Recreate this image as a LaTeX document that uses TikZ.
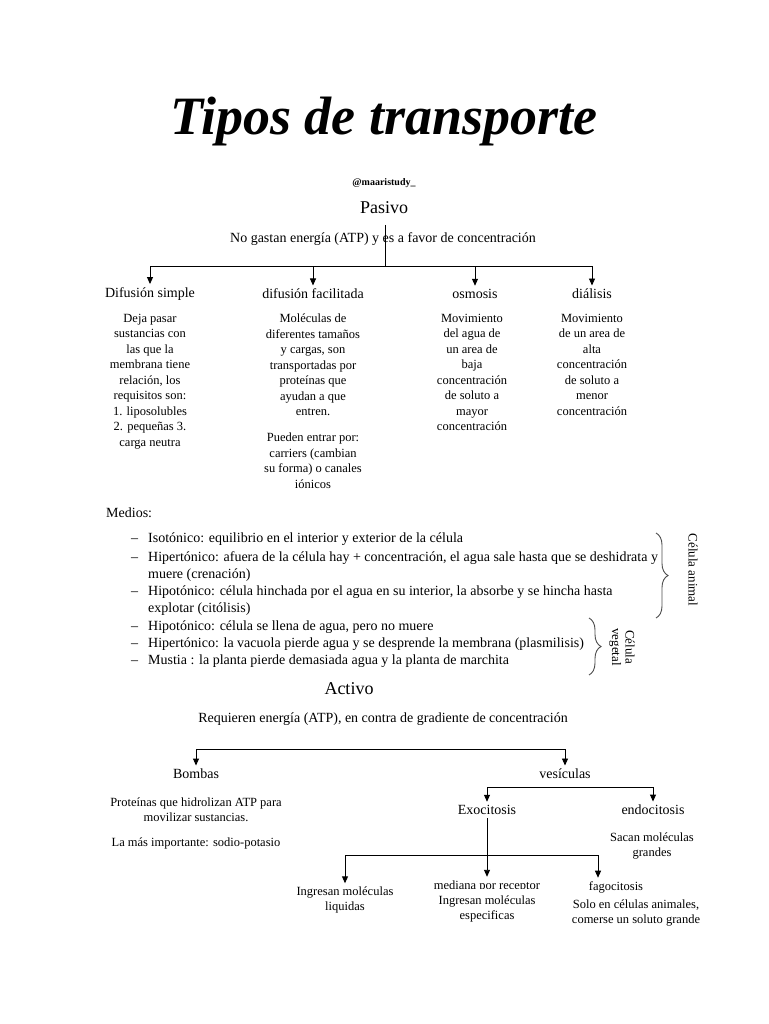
\documentclass[tikz,border=0pt]{standalone}
\usepackage{fontspec}
\setmainfont{Liberation Serif}
\usetikzlibrary{arrows.meta,decorations.pathreplacing}

\begin{document}
\begin{tikzpicture} %Tipos de transporte
      [x=1pt, y=-1pt,
      head/.style={font=\fontsize{18}{20}\selectfont},
      body/.style={font=\fontsize{14}{16}\selectfont},
      col/.style={align=center, anchor=north, inner sep=0pt, font=\fontsize{12.5}{15.5}\selectfont},
      item/.style={anchor=base west, inner sep=0pt, font=\fontsize{14}{16}\selectfont},
      small/.style={align=center, font=\fontsize{12.5}{15}\selectfont},
      arr/.style={-{Triangle[length=7pt,width=6pt]}, line width=0.9pt},
      brc/.style={decorate, decoration={brace, amplitude=12pt}, line width=0.9pt, black!70}
      ]
      \useasboundingbox (0,0) rectangle (768,1024);
      \node[font=\fontsize{54}{54}\selectfont\bfseries\itshape] (title) at (384,122) {Tipos de transporte};
      \node[font=\fontsize{10}{12}\selectfont\bfseries] (user) at (384,183) {@maaristudy\_};
      % Pasivo
      \node[head] (pasivo) at (384,208) {Pasivo};
      \node[body] (pasdesc) at (383,239) {No gastan energía (ATP) y es a favor de concentración};
      \coordinate (pstem) at (385,225);
      \coordinate (pj) at (385,266);
      \draw[line width=0.9pt] (pstem) -- (pj);
      \node[body] (difs) at (150,294) {Difusión simple};
      \node[body] (diff) at (313,294) {difusión facilitada};
      \node[body] (osm) at (475,294) {osmosis};
      \node[body] (dial) at (592,294) {diálisis};
      \foreach \n in {difs,diff,osm,dial} \draw[arr] (pj) -| (\n);
      \node[col] (difsdesc) at (150,314) {Deja pasar\\sustancias con\\las que la\\membrana tiene\\relación, los\\requisitos son:\\1. liposolubles\\2. pequeñas 3.\\carga neutra};
      \node[col] (diffdesc) at (313,314) {Moléculas de\\diferentes tamaños\\y cargas, son\\transportadas por\\proteínas que\\ayudan a que\\entren.};
      \node[col] (diffmore) at (313,433) {Pueden entrar por:\\carriers (cambian\\su forma) o canales\\iónicos};
      \node[col] (osmdesc) at (472,314) {Movimiento\\del agua de\\un area de\\baja\\concentración\\de soluto a\\mayor\\concentración};
      \node[col] (dialdesc) at (592,314) {Movimiento\\de un area de\\alta\\concentración\\de soluto a\\menor\\concentración};
      % Medios
      \node[item] (medios) at (106,517) {Medios:};
      \foreach \y in {542,561,595,630,647,664} \node[item] (d\y) at (131,\y) {--};
      \node[item] (iso) at (148,542) {Isotónico: equilibrio en el interior y exterior de la célula};
      \node[item] (hiper) at (148,561) {Hipertónico: afuera de la célula hay + concentración, el agua sale hasta que se deshidrata y};
      \node[item] (hiperb) at (148,578) {muere (crenación)};
      \node[item] (hipo) at (148,595) {Hipotónico: célula hinchada por el agua en su interior, la absorbe y se hincha hasta};
      \node[item] (hipob) at (148,612) {explotar (citólisis)};
      \node[item] (hipov) at (148,630) {Hipotónico: célula se llena de agua, pero no muere};
      \node[item] (hiperv) at (148,647) {Hipertónico: la vacuola pierde agua y se desprende la membrana (plasmilisis)};
      \node[item] (mustia) at (148,664) {Mustia : la planta pierde demasiada agua y la planta de marchita};
      \coordinate (ba1) at (656,533);
      \coordinate (ba2) at (656,618);
      \draw[brc] (ba1) -- (ba2);
      \coordinate (bv1) at (589,618);
      \coordinate (bv2) at (589,675);
      \draw[brc] (bv1) -- (bv2);
      \node[rotate=-90, font=\fontsize{13}{14}\selectfont] (anim) at (693,570) {Célula animal};
      \node[rotate=-90, align=center, font=\fontsize{13}{13.5}\selectfont] (veg) at (622,647) {Célula\\vegetal};
      % Activo
      \node[head] (activo) at (349,689) {Activo};
      \node[body] (actdesc) at (383,719) {Requieren energía (ATP), en contra de gradiente de concentración};
      \coordinate (aj) at (380,749);
      \node[body] (bomb) at (196,774) {Bombas};
      \node[body] (vesic) at (565,774) {vesículas};
      \draw[arr] (aj) -| (bomb);
      \draw[arr] (aj) -| (vesic);
      \node[small] (bombdesc) at (196,810) {Proteínas que hidrolizan ATP para\\movilizar sustancias.};
      \node[small] (bombimp) at (196,843) {La más importante: sodio-potasio};
      \coordinate (vj) at (570,787);
      \node[body] (exo) at (487,810) {Exocitosis};
      \node[body] (endo) at (653,810) {endocitosis};
      \draw[arr] (vj) -| (exo);
      \draw[arr] (vj) -| (endo);
      \node[small] (endodesc) at (652,846) {Sacan moléculas\\grandes};
      \coordinate (ej) at (487,855);
      \node[small] (ingl) at (345,900) {Ingresan moléculas\\liquidas};
      \node[small] (med) at (487,886) {mediana por receptor};
      \node[small, fill=white, inner ysep=7pt] (meddesc) at (487,909) {Ingresan moléculas\\especificas};
      \node[small] (fago) at (616,887) {fagocitosis};
      \node[small] (fagodesc) at (636,913) {Solo en células animales,\\comerse un soluto grande};
      \draw[arr] (exo) -- (med);
      \draw[arr] (ej) -| (ingl);
      \draw[arr] (ej) -| ([xshift=-18pt]fago.north);
\end{tikzpicture}
\end{document}
